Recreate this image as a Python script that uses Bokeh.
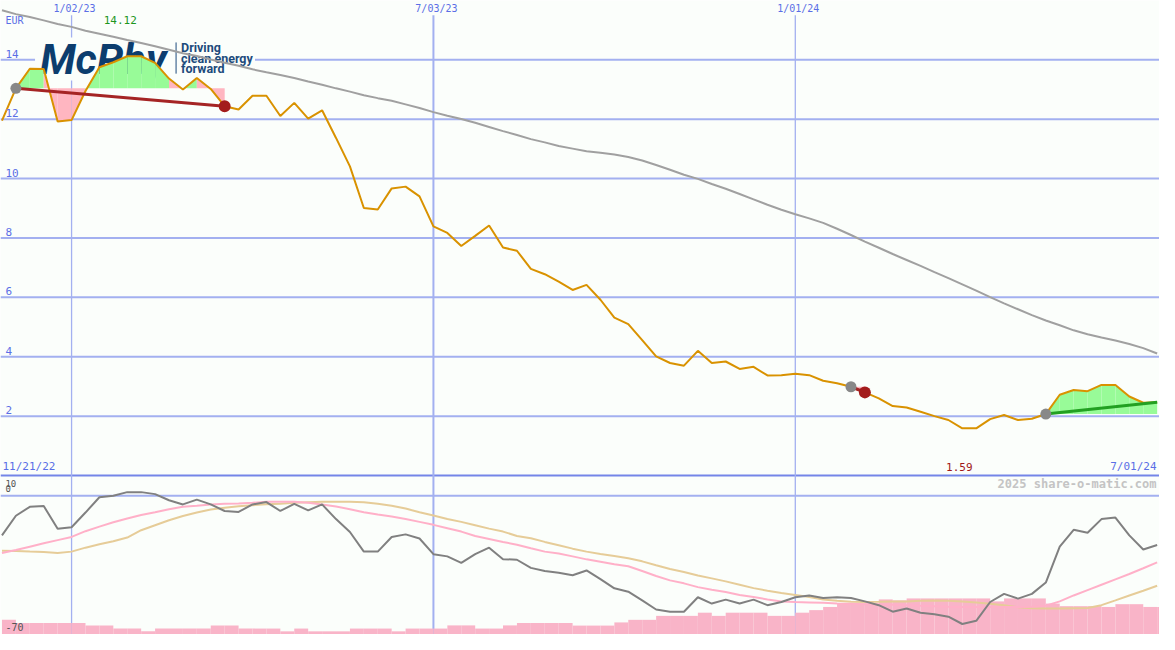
import pandas as pd
from bokeh.plotting import figure
from bokeh.models import Range1d, Label, Span
from bokeh.core.properties import value
from bokeh.embed import file_html
from bokeh.resources import INLINE

# ---------------- data ----------------
dates = pd.date_range("2022-11-28", periods=84, freq="7D")

price = [11.95, 13.04, 13.70, 13.69, 11.92, 11.97, 12.95, 13.75, 13.92, 14.12,
         14.12, 13.90, 13.37, 13.00, 13.39, 13.02, 12.44, 12.33, 12.79, 12.79,
         12.11, 12.55, 12.02, 12.30, 11.37, 10.41, 9.01, 8.96, 9.67, 9.73,
         9.40, 8.39, 8.17, 7.73, 8.07, 8.42, 7.68, 7.57, 6.96, 6.78,
         6.53, 6.25, 6.42, 5.92, 5.32, 5.10, 4.56, 4.01, 3.79, 3.70,
         4.20, 3.79, 3.84, 3.59, 3.66, 3.37, 3.38, 3.43, 3.38, 3.19,
         3.11, 2.99, 2.80, 2.60, 2.34, 2.29, 2.15, 2.00, 1.87, 1.59,
         1.59, 1.90, 2.04, 1.87, 1.91, 2.07, 2.72, 2.88, 2.84, 3.05,
         3.05, 2.66, 2.45, 2.47]

ma_long = [15.67, 15.54, 15.44, 15.33, 15.21, 15.11, 14.98, 14.88, 14.78, 14.67,
           14.57, 14.46, 14.34, 14.22, 14.13, 14.01, 13.90, 13.80, 13.68, 13.58,
           13.49, 13.39, 13.27, 13.16, 13.04, 12.93, 12.81, 12.71, 12.62, 12.50,
           12.38, 12.24, 12.12, 12.01, 11.88, 11.74, 11.60, 11.47, 11.33, 11.22,
           11.10, 11.01, 10.92, 10.87, 10.81, 10.73, 10.61, 10.46, 10.30, 10.13,
           9.99, 9.82, 9.66, 9.48, 9.30, 9.12, 8.95, 8.80, 8.66, 8.51,
           8.31, 8.10, 7.88, 7.67, 7.46, 7.26, 7.06, 6.85, 6.65, 6.44,
           6.23, 6.01, 5.80, 5.60, 5.40, 5.22, 5.06, 4.89, 4.76, 4.65,
           4.55, 4.43, 4.29, 4.11]

osc = [-20.0, -10.1, -5.6, -5.2, -16.7, -15.9, -8.5, -0.8, 0.0, 1.8,
       1.8, 0.8, -2.3, -4.4, -2.0, -4.4, -7.7, -8.2, -4.4, -3.2,
       -7.7, -4.1, -7.4, -4.4, -11.8, -18.3, -28.2, -28.2, -20.8, -19.5,
       -21.6, -29.5, -30.6, -33.9, -29.5, -26.2, -32.0, -32.3, -36.4, -38.0,
       -38.9, -40.1, -37.7, -42.1, -46.7, -48.4, -52.8, -57.4, -58.5, -58.5,
       -51.2, -54.4, -52.4, -54.4, -52.4, -55.2, -53.6, -51.2, -50.3, -51.6,
       -51.2, -51.6, -53.3, -55.2, -58.5, -56.9, -59.0, -59.8, -61.0, -64.7,
       -63.1, -53.6, -49.5, -51.9, -49.5, -43.8, -25.7, -17.2, -18.7, -11.8,
       -11.0, -20.0, -27.1, -24.9]

osc_fast = [-28.9, -27.4, -25.7, -24.0, -22.4, -20.8, -17.9, -15.6, -13.4, -11.5,
            -9.7, -8.3, -6.8, -5.6, -5.1, -4.4, -4.1, -3.9, -3.6, -3.1,
            -3.1, -3.1, -3.6, -4.4, -5.4, -6.8, -8.3, -9.5, -10.5, -11.7,
            -13.2, -14.7, -16.4, -18.1, -20.3, -21.8, -23.3, -24.7, -26.5, -28.2,
            -29.2, -30.6, -32.1, -33.3, -34.6, -35.6, -38.0, -40.5, -42.7, -44.2,
            -46.1, -47.4, -48.6, -50.1, -51.1, -52.3, -53.3, -53.6, -53.8, -54.0,
            -54.3, -54.5, -54.7, -54.9, -55.0, -55.2, -55.5, -55.7, -56.0, -56.1,
            -56.1, -56.1, -56.1, -56.1, -56.0, -55.5, -53.3, -50.3, -47.6, -44.9,
            -42.2, -39.5, -36.6, -33.6]

osc_slow = [-27.7, -27.9, -28.2, -28.4, -28.9, -28.2, -26.2, -24.5, -23.0, -21.1,
            -17.4, -14.9, -12.4, -10.2, -8.5, -7.0, -6.1, -5.3, -4.8, -4.3,
            -4.1, -3.6, -3.3, -3.1, -3.1, -3.1, -3.3, -4.1, -5.1, -6.5,
            -8.3, -10.0, -11.7, -13.2, -14.9, -16.6, -18.1, -20.3, -21.5, -23.3,
            -25.0, -26.7, -28.2, -29.4, -30.4, -31.5, -33.1, -35.1, -37.0, -38.5,
            -40.2, -41.7, -43.2, -44.9, -46.6, -47.9, -49.1, -50.1, -51.1, -52.3,
            -53.0, -53.5, -53.6, -53.5, -53.3, -53.3, -53.0, -52.8, -53.0, -53.3,
            -53.8, -54.5, -55.2, -56.2, -56.7, -56.9, -56.9, -56.7, -56.6, -55.2,
            -52.8, -50.3, -47.9, -45.4]

volume_bar = [-62.6, -64.2, -64.2, -64.2, -64.2, -64.2, -65.4, -65.4, -67.0, -67.0,
              -68.4, -67.0, -67.0, -67.0, -67.0, -65.4, -65.4, -67.0, -67.0, -67.0,
              -68.4, -67.0, -68.4, -68.4, -68.4, -67.0, -67.0, -67.0, -68.4, -67.0,
              -67.0, -67.0, -65.4, -65.4, -67.0, -67.0, -65.4, -64.2, -64.2, -64.2,
              -64.2, -65.5, -65.5, -65.5, -63.9, -62.6, -62.6, -60.6, -60.6, -60.6,
              -59.0, -60.6, -59.0, -59.0, -59.0, -60.6, -60.6, -59.0, -57.7, -56.1,
              -54.2, -54.2, -54.2, -52.3, -52.8, -51.8, -51.8, -51.8, -51.8, -51.8,
              -51.8, -53.3, -51.8, -51.8, -51.8, -54.4, -55.7, -55.7, -55.7, -56.1,
              -54.7, -54.7, -56.1, -56.1]

trend_start = [1, 61, 75]
trend_end = [16, 62, 83]
trend_closed = [True, True, False]

price_ticks = [2, 4, 6, 8, 10, 12, 14]
vline_dates = ["2023-01-02", "2023-07-03", "2024-01-01"]
vline_labels = ["1/02/23", "7/03/23", "1/01/24"]
period_labels = ["11/21/22", "7/01/24"]
osc_labels = ["10", "0", "-70"]
currency = "EUR"
credit = "2025 share-o-matic.com"
logo_name = "McPhy"
logo_tagline = ["Driving", "clean energy", "forward"]

# ---------------- geometry helpers (reference pixels -> data) ----------------
DAY = 86400000.0
EPOCH = pd.Timestamp("1970-01-01")
def ms(t):
    return (pd.Timestamp(t) - EPOCH) / pd.Timedelta(milliseconds=1)

xs = [ms(d) for d in dates]
PX_DAY = 14.11 / 7.0
X_ORIGIN = xs[0] - 1.5 / PX_DAY * DAY
def X(px):
    return X_ORIGIN + px / PX_DAY * DAY
def Y(px):
    return (487.0 - px) / 30.44
def YP(v):
    return 487.0 - 30.44 * v
def YO(px):
    return (507.7 - px) / 2.033

BG = "#fbfefb"
GRID = "#a3b0f0"
BLUE_TXT = "#5a6ee6"
MONO = "DejaVu Sans Mono"

p = figure(width=1159, height=634, output_backend="svg", toolbar_location=None,
           x_range=Range1d(X(0), X(1175)), y_range=Range1d(Y(650), Y(0)),
           x_axis_location=None, y_axis_location=None, min_border=0,
           background_fill_color=BG, border_fill_color=BG, outline_line_color=None)
p.grid.visible = False
p.extra_y_ranges = {"osc": Range1d(YO(650), YO(0))}

# grid lines
for t in price_ticks:
    p.add_layout(Span(location=t, dimension="width", line_color=GRID, line_width=2, level="underlay"))
p.add_layout(Span(location=0, dimension="width", line_color="#7485e8", line_width=2, level="underlay"))
p.add_layout(Span(location=0, dimension="width", y_range_name="osc", line_color=GRID, line_width=2, level="underlay"))
for d, w in zip(vline_dates, [1.3, 2, 1.3]):
    p.segment(x0=[ms(d)], y0=[Y(15)], x1=[ms(d)], y1=[Y(650)], line_color=GRID, line_width=w)

# logo (drawn beneath the data)
p.quad(left=[X(35)], right=[X(258)], bottom=[Y(82)], top=[Y(38)], fill_color=BG, line_color=None)
p.text(x=[X(40)], y=[Y(60)], text=[logo_name], text_font=value("Roboto"),
       text_font_style="bold italic", text_font_size="42px", text_color="#0c3d6e",
       text_baseline="middle")
p.segment(x0=[X(178)], y0=[Y(43)], x1=[X(178)], y1=[Y(75)], line_color="#1d4b7c", line_width=1)
p.text(x=[X(183)] * 3, y=[Y(48.5), Y(59), Y(69.5)], text=logo_tagline,
       text_font=value("Roboto"), text_font_style="bold", text_font_size="12.5px",
       text_color="#1d4b7c", text_baseline="middle")

# lower panel: volume bars and oscillator lines
p.quad(left=xs, right=[x + 7 * DAY for x in xs], bottom=-80, top=volume_bar,
       y_range_name="osc", fill_color="#f9b4c8", line_color=None)
p.line(xs, osc_slow, y_range_name="osc", line_color="#e6cc98", line_width=2)
p.line(xs, osc_fast, y_range_name="osc", line_color="#ffb0c8", line_width=2)
p.line(xs, osc, y_range_name="osc", line_color="#808080", line_width=2)

# trend fills
pxs, pys, pcol = [], [], []
for s, e in zip(trend_start, trend_end):
    base = price[s]
    for i in range(s, e):
        pxs.append([xs[i], xs[i + 1], xs[i + 1], xs[i]])
        pys.append([price[i], price[i + 1], base, base])
        pcol.append("#98fb98" if price[i + 1] >= base else "#ffb6c1")
p.patches(pxs, pys, fill_color=pcol, line_color=None)

# long moving average and price
p.line(xs, ma_long, line_color="#a0a0a0", line_width=2)
p.line(xs, price, line_color="#d99200", line_width=2)

# trend lines and dots
for s, e, closed in zip(trend_start, trend_end, trend_closed):
    col = "#a52424" if price[e] < price[s] else "#22a022"
    p.line([xs[s], xs[e]], [price[s], price[e]], line_color=col, line_width=3)
    p.scatter([xs[s]], [price[s]], size=11, fill_color="#888888", line_color=None)
    if closed:
        p.scatter([xs[e]], [price[e]], size=12, fill_color="#a31c1c", line_color=None)

# ---------------- texts ----------------
def lab(x, y, text, color=BLUE_TXT, align="left", base="middle", size="10px", style="normal"):
    p.add_layout(Label(x=x, y=y, text=text, text_color=color, text_align=align, text_baseline=base,
                       text_font=MONO, text_font_size=size, text_font_style=style))

for d, t in zip(vline_dates, vline_labels):
    lab(ms(d) + 1.5 * DAY, Y(8), t, align="center")
lab(X(5), Y(20), currency)
for t in price_ticks:
    lab(X(5), Y(YP(t) - 2), str(t), base="bottom", size="11px")

imax = price.index(max(price))
imin = price.index(min(price))
lab(xs[imax] - 3.5 * DAY, Y(20), f"{max(price):.2f}", color="#1e961e", align="center", size="11px")
lab(xs[imin] - 1.5 * DAY, Y(478), f"{min(price):.2f}", color="#a01818", align="center", size="11px")
lab(X(2), Y(478), period_labels[0], size="11px")
lab(X(1172), Y(478), period_labels[1], align="right", size="11px")
lab(X(1172), Y(496), credit, color="#c4c4c4", align="right", size="12px", style="bold")

lab(X(5), Y(499), osc_labels[0], color="#555555", base="bottom", size="9px")
lab(X(5), Y(504), osc_labels[1], color="#555555", base="bottom", size="9px")
lab(X(5), Y(646), osc_labels[2], color="#555555", base="bottom", size="10px")

open("out.html", "w").write(file_html(p, INLINE))
